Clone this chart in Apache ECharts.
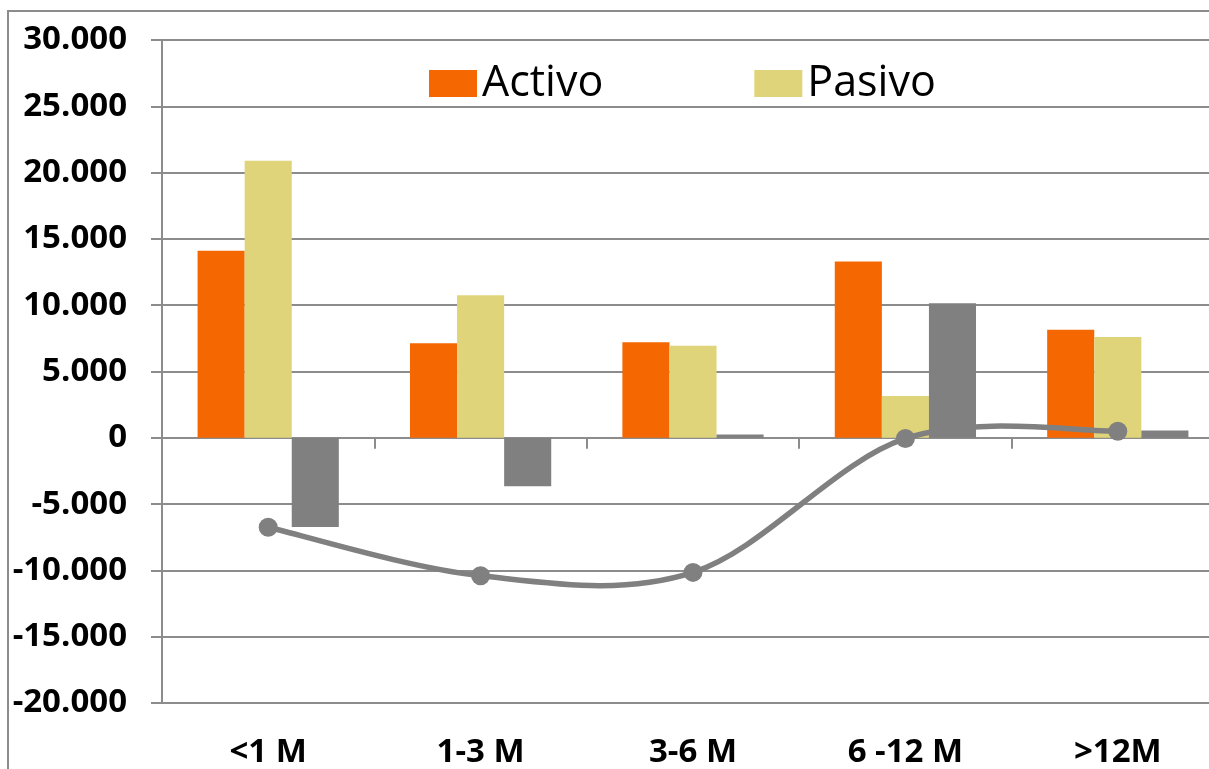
<!DOCTYPE html>
<html>
<head>
<meta charset="utf-8">
<script src="https://cdn.jsdelivr.net/npm/echarts@6/dist/echarts.min.js"></script>
<style>
html,body{margin:0;padding:0;background:#fff;overflow:hidden;width:1209px;height:769px;}
#chart{width:1232px;height:769px;}
</style>
</head>
<body>
<div id="chart"></div>
<script>
const categories = ['<1 M', '1-3 M', '3-6 M', '6 -12 M', '>12M'];
const activo = [14100, 7130, 7200, 13300, 8150];
const pasivo = [20900, 10750, 6950, 3150, 7600];
const gap = [-6730, -3650, 250, 10150, 550];
const gapAcumulado = [-6750, -10400, -10150, -50, 500];
const yTicks = { min: -20000, max: 30000, interval: 5000 };

const FONT = '"Open Sans", "DejaVu Sans", sans-serif';
const GRID = '#8c8c8c';
const LINE = '#808080';

function fmt(v) {
  const s = Math.abs(v).toString().replace(/\B(?=(\d{3})+(?!\d))/g, '.');
  return (v < 0 ? '-' : '') + s;
}

// Excel-like smoothed line (Catmull-Rom style Bezier), drawn through the chart's own scales
function renderSmooth(params, api) {
  const i = params.dataIndex;
  const n = gapAcumulado.length;
  const P = (k) => api.coord([k, gapAcumulado[k]]);
  const children = [];
  if (i < n - 1) {
    const p0 = P(i), p1 = P(i + 1);
    const pm = i > 0 ? P(i - 1) : p0;
    const pn = i + 2 < n ? P(i + 2) : p1;
    const t = 1 / 6;
    const c1 = [p0[0] + (p1[0] - pm[0]) * t, p0[1] + (p1[1] - pm[1]) * t];
    const c2 = [p1[0] - (pn[0] - p0[0]) * t, p1[1] - (pn[1] - p0[1]) * t];
    children.push({
      type: 'bezierCurve',
      shape: { x1: p0[0], y1: p0[1], x2: p1[0], y2: p1[1], cpx1: c1[0], cpy1: c1[1], cpx2: c2[0], cpy2: c2[1] },
      style: { stroke: LINE, lineWidth: 5.5, fill: null, lineCap: 'round' },
      z2: 1
    });
  }
  const c = P(i);
  children.push({ type: 'circle', shape: { cx: c[0], cy: c[1], r: 9.5 }, style: { fill: LINE }, z2: 2 });
  return { type: 'group', children };
}

const chart = echarts.init(document.getElementById('chart'), null, { renderer: 'canvas' });
chart.setOption({
  animation: false,
  backgroundColor: '#fff',
  graphic: [{
    type: 'rect',
    shape: { x: 8, y: 11, width: 1400, height: 1000 },
    style: { fill: 'none', stroke: '#8c8c8c', lineWidth: 2 },
    silent: true, z: -1
  }],
  grid: { left: 162, top: 40, width: 1062, height: 664 },
  legend: {
    data: ['Activo', 'Pasivo'],
    left: 429, top: 62, padding: 0,
    itemWidth: 48, itemHeight: 27, itemGap: 151,
    icon: 'rect',
    textStyle: { fontFamily: FONT, fontSize: 43, color: '#000', width: 125, padding: [0, 0, 0, 0] }
  },
  xAxis: [{
    type: 'category',
    data: categories,
    position: 'bottom',
    axisLine: { show: false, onZero: false },
    axisTick: { show: false },
    axisLabel: { fontFamily: FONT, fontSize: 33, fontWeight: 'bold', color: '#000', margin: 33, interval: 0 },
    splitLine: { show: false }
  }, {
    type: 'category',
    data: categories,
    position: 'top',
    axisLine: { show: true, onZero: true, lineStyle: { color: GRID, width: 2 } },
    axisTick: { show: true, inside: true, length: 11, lineStyle: { color: GRID, width: 2 } },
    axisLabel: { show: false },
    splitLine: { show: false }
  }],
  yAxis: {
    type: 'value',
    min: yTicks.min, max: yTicks.max, interval: yTicks.interval,
    axisLine: { show: true, lineStyle: { color: GRID, width: 2 } },
    axisTick: { show: true, length: 11, lineStyle: { color: GRID, width: 2 } },
    splitLine: { show: true, lineStyle: { color: GRID, width: 2 } },
    axisLabel: { fontFamily: FONT, fontSize: 33, fontWeight: 'bold', color: '#000', margin: 35, formatter: fmt }
  },
  series: [{
    name: 'Activo', type: 'bar', data: activo,
    barGap: '0%', barCategoryGap: '33.5%',
    itemStyle: { color: '#F56700' }, z: 2
  }, {
    name: 'Pasivo', type: 'bar', data: pasivo,
    barGap: '0%', barCategoryGap: '33.5%',
    itemStyle: { color: '#E0D47A' }, z: 2
  }, {
    name: 'Gap', type: 'bar', data: gap,
    barGap: '0%', barCategoryGap: '33.5%',
    itemStyle: { color: '#808080' }, z: 2
  }, {
    name: 'Gap acumulado', type: 'custom',
    data: gapAcumulado.map((v, k) => [k, v]),
    encode: { x: 0, y: 1 },
    renderItem: renderSmooth,
    clip: false,
    z: 5
  }]
});
</script>
</body>
</html>
